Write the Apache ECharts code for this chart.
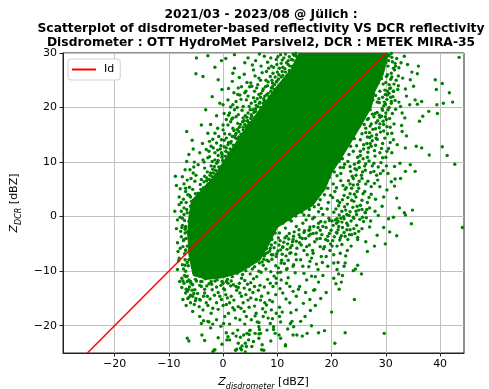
<!DOCTYPE html>
<html>
<head>
<meta charset="utf-8">
<script src="https://cdn.jsdelivr.net/npm/echarts@6/dist/echarts.min.js"></script>
<style>
  html, body { margin: 0; padding: 0; background: #fff; }
  #chart { width: 489px; height: 389px; }
</style>
</head>
<body>
<div id="chart"></div>
<script>
// title lines
var titleLines = [
  '2021/03 - 2023/08 @ Jülich :',
  'Scatterplot of disdrometer-based reflectivity VS DCR reflectivity',
  'Disdrometer : OTT HydroMet Parsivel2, DCR : METEK MIRA-35'
]

var xTicks = [-20, -10, 0, 10, 20, 30, 40]
var yTicks = [-20, -10, 0, 10, 20, 30]

// identity line end points
var idLine = [[-25, -25], [30, 30]]

// outline of the solid (saturated) part of the point cloud, [Zdis, Zdcr]
var denseCore = [
  [14, 30], [30.5, 30], [29.5, 26], [28, 23], [27.3, 20], [25.6, 17], [23.8, 14], [21.6, 10.4],
  [20, 8], [18.8, 5], [16.5, 2], [13.5, 0.3], [10, -2], [8.4, -5.2], [6.8, -8], [3, -10.3],
  [0, -11.2], [-3, -11.5], [-5.5, -10.8], [-6.3, -7], [-6.5, -3], [-6.3, 0], [-5.8, 3],
  [-3.8, 5], [-2, 7], [0, 10], [3.3, 15], [7, 20], [10, 24], [12.5, 27]
]

// upper-left scattered points
var upperLeftPts = [
  [2.1,29.7],[4.6,29.1],[7.6,29.4],[8.2,28.3],[8.4,27.2],[5.6,26.9],[2.1,27.2],[-1.5,27.4],[-3.7,25.7],[-0.9,25.1],
  [1.7,24.8],[2.8,23.6],[3.4,23.8],[6.6,25.4],[8.7,25.7],[6.4,24.2],[4.9,23.8],[4.2,23.0],[3.1,22.3],[2.0,22.7],
  [5.8,23.0],[7.4,23.4],[8.0,22.3],[8.9,23.6],[9.5,24.2],[9.9,24.8],[9.2,26.3],[10.4,27.2],[11.2,29.1],[11.7,28.2],
  [12.6,28.8],[13.5,29.4],[9.8,28.8],[-2.8,29.5],[0.5,29.0],[6.0,28.6],[10.6,29.7],[12.2,26.8],[11.0,25.9],[10.3,26.0],
  [12.8,27.6],[7.2,26.4],[9.6,21.6],[10.2,22.8],[10.8,23.3],[6.9,21.9],[3.9,26.1],[-0.2,23.3],[-4.9,29.1],
  [-0.6,20.8],[0.9,21.4],[1.8,20.5],[2.4,21.1],[3.7,20.2],[4.3,21.4],[5.2,20.8],[5.5,19.6],[6.4,20.2],[7.4,20.8],
  [8.3,21.1],[1.2,19.0],[0.6,17.8],[1.8,18.1],[2.8,18.7],[3.7,18.1],[4.6,19.0],[4.9,17.2],[5.8,17.8],[6.7,18.7],
  [0.0,15.9],[0.9,16.8],[1.8,16.2],[2.4,15.3],[3.7,15.9],[4.3,16.5],[-1.5,15.3],[-2.5,13.8],[-2.8,15.3],[-3.1,12.3],
  [-2.2,12.9],[-1.2,13.5],[-0.3,14.1],[0.6,14.4],[1.5,13.8],[2.4,12.9],[3.1,13.8],[-4.3,11.7],[-3.7,10.4],[-2.5,11.0],
  [-1.5,11.7],[-0.3,11.7],[0.9,11.7],[-1.2,9.8],[-3.4,8.9],[-4.0,6.8],[-3.1,5.6],[-4.6,4.3],[-3.7,3.7],[-1.8,8.0],
  [-2.5,6.8],[-0.1,10.3],[0.4,11.1],[1.3,12.4],[1.9,13.1],[2.9,14.6],[3.3,15.1],[4.0,16.9],[4.5,17.6],[5.3,18.4],
  [6.0,19.3],[6.9,20.0],[7.6,21.3],[8.5,22.0],[9.1,22.6],[9.9,23.5],[10.5,24.2],[11.3,25.3],[11.8,25.9],[12.3,26.4],
  [13.0,27.3],[13.4,28.3],[14.2,29.0],[12.9,29.8],[-0.8,9.1],[-1.4,8.5],[-2.0,7.3],[-2.8,6.0],[-3.3,4.8],[-3.9,3.1],
  [0.2,12.8],[1.0,13.6],[2.2,14.9],[3.0,16.4],[3.6,17.4],[4.1,18.5],[5.0,19.6],[5.9,21.1],[6.6,22.4],[7.3,23.1],
  [8.2,24.0],[9.0,25.0],[10.0,26.5],[11.0,27.4],[12.0,28.6],[-0.4,13.0],[0.3,15.2],[1.4,17.4],[2.1,19.6],[3.3,21.5],
  [4.6,22.1],[5.1,24.5],[7.9,25.0],[8.9,27.6],[-2.0,10.1],[-3.4,7.4],[-1.0,12.2],[2.7,17.1],[6.2,23.6],[-4.2,5.9],
  [-4.4,2.1],[-4.8,3.0],
  [13.1,29.6],[12.2,29.3],[11.5,29.8],[10.9,28.7],[12.0,27.9],[11.4,27.1],[10.7,28.1],[9.9,27.9],[10.9,26.6],[9.6,25.6],
  [10.2,25.2],[9.1,24.5],[8.3,24.7],[7.8,23.8],[8.8,23.0],[9.4,23.3],[7.0,22.6],[7.7,22.1],[6.3,21.6],[6.8,21.0],
  [6.1,20.4],[5.6,21.8],[4.8,20.2],[5.7,19.1],[4.4,18.2],[5.1,18.0],[3.9,17.6],[4.6,16.8],[3.2,16.9],[2.6,16.0],
  [3.5,19.5],[2.4,18.3],[1.6,17.9],[2.0,15.8],[1.2,15.1],[2.5,14.3],[1.7,14.7],[0.9,13.2],[0.2,14.0],[-0.5,12.4],
  [0.5,12.0],[-0.9,11.2],[-0.2,10.9],[-1.5,10.4],[-1.0,10.0],[-2.2,9.3],[-1.9,8.7],[-2.9,8.2],[-2.4,7.6],[-3.5,6.4],
  [-3.0,6.6],[-4.1,5.0],[-3.6,5.3],[-4.3,4.0],[-2.8,10.8],[-3.5,10.0],[-1.8,12.6],[-2.6,12.0],[-0.8,14.7],[-1.9,14.2],
  [0.0,16.8],[-1.0,16.2],[1.0,18.6],[0.2,18.9],[2.6,20.0],[1.4,20.1],[4.0,22.7],[2.7,22.4],[5.3,23.9],[4.4,24.6],
  [6.9,25.0],[5.9,25.8],[8.0,26.6],[7.0,27.6],[9.3,27.4],[8.8,29.1],[10.1,29.3],[6.7,29.8],[-1.2,18.5],[-2.3,16.9],
  [-3.8,13.4],[-4.6,9.5],[0.0,20.5],[1.0,23.5],[3.0,25.5],[5.4,27.8],[-2.0,22.0],[-3.2,19.6],[-4.0,16.8],[1.8,26.3],
  [4.0,28.2],[-0.3,28.6],
  [-3.0,7.1],[-2.3,8.0],[-1.6,9.2],[-0.9,10.3],[-0.2,11.4],[0.6,12.6],[1.4,13.5],[2.2,14.5],[2.9,15.6],[3.7,16.4],
  [4.5,17.5],[5.2,18.7],[6.0,19.8],[6.7,20.8],[7.5,21.6],[8.3,22.6],[9.1,23.8],[9.8,24.7],[10.7,25.6],[11.5,26.5],
  [12.3,27.6],[12.9,28.7],[13.4,29.9]
]

// left cluster around Zdis = -9..-4
var leftPts = [
  [-5.0,26.2],[-6.7,15.6],[-5.5,12.4],[-6.7,10.1],[-5.3,10.0],[-8.8,7.4],[-7.5,7.3],[-5.5,8.0],[-8.6,5.7],[-7.2,6.0],
  [-6.9,4.6],[-8.1,3.6],[-7.3,3.2],[-6.0,3.6],[-5.3,3.1],[-5.9,7.0],[-5.2,6.5],[-6.2,5.4],[-5.6,5.0],[-5.1,4.2],
  [-6.5,4.0],[-5.8,2.8],[-5.0,7.6],[-6.1,8.6],[-5.4,9.1],[-8.1,2.2],[-7.2,1.6],[-6.0,1.9],[-6.6,0.7],[-5.3,0.4],
  [-7.5,-0.3],[-6.3,-0.9],[-8.4,-0.6],[-6.9,-1.8],[-5.6,-2.1],[-7.8,-2.7],[-6.3,-3.3],[-5.3,-3.6],[-7.2,-4.2],[-8.4,-4.8],
  [-6.0,-5.1],[-6.9,-6.1],[-5.3,-6.7],[-8.1,-7.6],[-6.3,-7.9],[-7.5,-8.8],[-5.6,-9.1],[-8.4,-9.7],[-6.9,-10.0],[-5.3,-10.3],
  [-7.6,-11.3],[-6.3,-11.6],[-7.2,-12.2],[-5.6,-12.5],[-6.6,-13.7],[-6.9,-14.0],[-5.6,-14.6],[-6.0,-15.8],[-5.3,-16.1],
  [-7.0,-3.0],[-7.4,-5.5],[-6.6,-8.4],[-6.8,-11.0],[-6.2,-12.9],[-5.2,-13.4],[-7.0,-2.3],[-7.7,1.0],[-5.7,-13.5],[-6.3,-14.8],
  [-7.9,-5.8],[-8.0,-11.9],[-4.9,-11.8],[-4.3,-12.6],[-4.7,-14.1],[-4.2,-15.3],[-5.0,-15.0],[-6.7,1.3],[-7.1,-0.7],[-6.6,-2.8],
  [-7.5,-1.6],[-6.8,-4.0],[-7.7,-3.7],[-6.6,-5.4],[-7.1,-6.8],[-7.0,-7.9],[-6.4,-9.0],[-7.3,-9.6],[-7.1,-10.8],[-6.6,-11.9],
  [-5.9,-12.2],[-5.1,-11.5],[-7.6,-13.0],[-6.4,-13.4],[-5.4,-14.1],[-6.0,-14.4],[-5.1,-15.4],[-8.6,-2.2],[-8.2,-8.1],[-8.9,1.0],
  [-7.9,5.1],[-7.0,8.6],[-6.3,11.4],[-5.7,14.0],[-7.4,-15.2],[-6.8,-16.3],[-5.6,-17.4],
  [-6.8,2.6],[-7.2,0.4],[-6.9,-2.0],[-7.3,-4.4],[-6.9,-6.2],[-7.0,-8.9],[-6.6,-10.9],[-7.4,-11.8],[-6.0,-11.9],[-6.8,-13.3],
  [-6.5,-15.0],[-7.6,-2.0],[-7.9,-0.1],[-7.7,2.6],[-8.3,-6.4],[-6.2,3.9],[-6.9,5.2],[-6.6,6.7]
]

// points below the core
var lowerPts = [
  [-4.0,-12.8],[-3.4,-14.0],[-4.3,-15.2],[-3.1,-15.8],[-3.7,-17.1],[-2.2,-17.7],[-1.2,-15.8],[-0.6,-14.6],[0.3,-13.4],[0.9,-12.2],
  [1.5,-14.6],[1.2,-15.8],[2.4,-12.8],[3.1,-14.0],[2.1,-17.1],[3.7,-15.8],[4.3,-18.3],[4.9,-13.4],[5.8,-12.8],[6.1,-15.2],
  [7.1,-14.6],[7.7,-15.8],[8.3,-14.0],[9.2,-12.8],[9.8,-12.2],[10.7,-11.6],[11.7,-12.2],[11.0,-14.0],[12.3,-12.8],[12.9,-13.7],
  [13.5,-14.6],[14.1,-12.8],[15.4,-11.6],[16.3,-10.9],[16.9,-13.4],[16.0,-15.2],[17.9,-5.5],[16.7,-13.5],[18.0,-15.0],[16.1,-17.2],
  [13.5,-17.1],[14.3,-19.2],[9.8,-17.7],[8.9,-17.1],[7.4,-18.3],[6.1,-17.7],[5.2,-18.9],[3.1,-18.9],[0.3,-18.3],[-1.2,-18.9],
  [-2.8,-19.2],[-4.3,-18.3],
  [4.6,-7.8],[5.5,-7.2],[6.3,-6.6],[7.1,-6.9],[8.0,-5.9],[8.9,-5.2],[9.6,-4.8],[10.5,-4.4],[11.4,-3.9],[12.2,-3.1],
  [13.1,-2.8],[14.0,-2.4],[-3.3,-11.4],[-2.2,-11.9],[-1.1,-11.6],[0.0,-12.2],[0.8,-11.5],[1.7,-11.0],[2.6,-10.4],[3.4,-11.3],
  [4.2,-9.9],[5.0,-10.5],[5.8,-9.2],[6.7,-8.5],[7.5,-7.8],[8.4,-8.2],[9.2,-7.0],[10.1,-6.3],[11.0,-5.6],[11.9,-5.0],
  [12.8,-4.6],[-3.9,-11.9],[-2.6,-12.3],[-1.5,-11.8],[-0.4,-12.6],[0.6,-11.9],[1.9,-12.5],[3.0,-12.2],[4.0,-11.7],[5.1,-12.1],
  [6.2,-11.0],[7.0,-10.2],[7.9,-9.6],[8.8,-10.1],[9.7,-9.0],[10.8,-8.0],[11.6,-7.2],[12.5,-6.6],[13.6,-5.8],[14.4,-5.2],
  [15.2,-4.0],[-2.0,-13.4],[-0.9,-13.9],[0.5,-14.3],[2.5,-13.5],[3.9,-13.1],[5.5,-13.9],[6.8,-12.6],[8.2,-11.5],[9.4,-10.9],
  [10.6,-10.2],[11.8,-9.5],[13.0,-8.8],[14.3,-7.9],[15.5,-7.0],[16.5,-6.2],[15.3,-0.6],[16.8,-0.1],[18.4,0.4],
  [-3.6,-14.6],[-2.4,-15.1],[0.0,-16.3],[2.8,-16.5],[4.6,-15.3],[5.8,-16.4],[7.3,-16.9],[9.1,-15.6],[10.4,-16.6],[11.6,-15.1],
  [12.5,-17.6],[14.8,-15.9],[15.2,-13.9],[17.6,-12.0],[18.4,-10.8],[19.3,-9.1],[-1.9,-16.8],[1.0,-17.7],[3.9,-17.4],[6.6,-19.4],
  [8.0,-16.2],
  [11.0,-1.2],[12.3,-0.6],[13.5,-1.8],[14.7,-1.2],[16.0,-2.4],[17.2,-3.0],[18.4,-1.8],[19.3,-3.6],[10.4,-3.0],[11.7,-3.6],
  [12.9,-4.2],[14.1,-4.8],[15.4,-5.5],[16.6,-6.7],[18.1,-7.3],[11.0,-5.5],[12.3,-6.7],[13.5,-7.9],[14.7,-9.1],[9.8,-7.3],
  [10.7,-8.5],[12.9,-9.1],[16.0,-8.2],[17.5,-9.7],[18.7,-5.5],[19.0,-7.3],[11.7,-9.7],[10.1,-10.3],
  [3.9,-9.3],[4.7,-9.1],[5.3,-8.4],[6.1,-7.9],[6.9,-7.3],[7.8,-6.8],[8.6,-6.3],[9.4,-5.7],[10.3,-5.2],[11.2,-4.7],
  [12.1,-4.1],[13.0,-3.6],[14.0,-3.3],[14.9,-2.9],[15.8,-2.5],[16.7,-1.8],[17.6,-1.2],[18.8,-1.0],[19.5,-0.3],
  [-3.0,-12.7],[-1.2,-12.9],[0.1,-13.2],[1.4,-12.7],[2.8,-13.0],[4.5,-12.4],[5.6,-11.4],[6.6,-10.0],[7.4,-8.9],[8.1,-8.0],
  [9.0,-7.8],[9.9,-6.8],[10.9,-6.9],[11.8,-6.0],[12.7,-5.3],[13.5,-4.5],[14.6,-4.0],[15.8,-3.5],[16.9,-4.6],[17.9,-4.0],
  [-3.4,-13.3],[-2.9,-14.6],[-1.6,-14.4],[-0.3,-15.2],[0.8,-14.9],[2.0,-15.3],[3.4,-14.6],[4.2,-14.3],[5.1,-14.9],[6.5,-13.5],
  [7.6,-12.9],[8.7,-12.2],[9.8,-11.3],[10.2,-9.4],[11.3,-8.6],[12.0,-8.0],[13.4,-6.9],[14.9,-6.2],[15.9,-5.2],[16.3,-7.6],
  [-4.4,-16.5],[-2.8,-16.3],[-0.9,-17.0],[0.6,-16.1],[1.8,-16.7],[3.3,-16.8],[4.8,-16.6],[6.9,-15.3],[8.6,-15.3],[9.7,-14.3],
  [10.5,-13.2],[12.0,-11.2],[13.3,-10.3],[14.9,-10.4],[15.8,-9.2],[17.2,-8.7],[18.3,-8.4],[17.0,-11.0],[13.9,-13.3],[12.3,-15.8],
  [10.9,-17.5],[9.1,-18.7],[7.8,-17.5],[5.9,-18.2],[4.0,-19.7],[2.3,-18.6],[1.2,-19.7],[-0.4,-20.1],[-2.3,-20.4],[-3.4,-22.7],
  [-0.9,-22.2],[1.8,-21.4],[5.3,-23.8],[8.8,-22.8],[11.9,-20.6],[15.1,-18.3],[17.0,-16.3],[19.0,-13.9],[20.0,-17.5],[16.3,-20.0],
  [-4.1,-11.9],[-2.1,-12.4],[-0.2,-11.9],[1.5,-11.8],[3.6,-10.6],[5.4,-9.6],[7.2,-8.3],[8.9,-7.0],[10.6,-6.1],[12.4,-5.7],
  [14.2,-3.8],[16.1,-3.2],[17.9,-2.5],
  [10.0,-1.6],[10.8,-1.0],[11.5,-2.1],[9.6,-3.0],[10.2,-3.9],[9.0,-4.2],[8.7,-5.8],[8.2,-6.6],[7.6,-7.2],[15.8,0.2],
  [17.6,0.9],[19.2,1.4],[16.5,-0.4]
]

// sparse points near the bottom edge
var bottomPts = [
  [11.5,-23.7],[12.7,-19.2],[10.4,-18.3],[9.3,-20.7],[8.3,-18.6],[6.7,-20.7],[6.6,-21.5],[4.9,-20.9],[4.8,-21.6],[4.3,-23.8],
  [2.8,-23.2],[1.2,-22.6],[2.3,-24.5],[3.4,-24.4],[7.1,-24.4],[-1.5,-24.4],[-6.6,-22.3],[-6.3,-22.8],[-3.9,-21.7],[-4.0,-19.6],
  [-3.6,-19.1],[-2.6,-19.3],[-1.9,-19.7],[-1.7,-24.5],[-1.9,-24.8],[0.1,-19.6],[0.6,-21.3],[0.9,-22.0],[-0.2,-23.4],[0.7,-22.6],
  [2.4,-21.9],[2.7,-20.8],[3.2,-22.1],[3.8,-21.7],[4.4,-21.4],[4.7,-22.6],[5.0,-20.8],[4.1,-23.2],[3.5,-23.7],[2.5,-24.3],
  [3.2,-24.1],[4.1,-24.8],[6.3,-19.3],[6.6,-20.2],[6.9,-21.4],[5.9,-21.4],[6.6,-22.3],[7.2,-23.5],[7.5,-24.5],[5.6,-22.9],
  [8.1,-20.8],[8.7,-19.6],[9.3,-20.2],[9.6,-21.4],[10.3,-21.7],[10.6,-22.3],[11.5,-23.5],[10.6,-19.3],[12.4,-19.6],[13.0,-20.2],
  [12.9,-21.7],[13.6,-21.7],[14.6,-21.9],[15.5,-21.4],[17.6,-21.3],[18.7,-20.9],[22.5,-21.3],[20.6,-23.2],[29.7,-21.4]
]

// points right of the core
var rightPts = [
  [30.6,29.5],[31.2,28.4],[30.4,27.6],[31.6,26.9],[30.3,26.0],[30.9,25.2],[32.0,29.0],[31.5,24.3],[30.0,24.6],[29.8,23.2],
  [30.6,22.6],[31.3,22.0],[30.2,21.5],[29.4,21.9],[28.8,20.9],[29.6,20.3],[30.4,19.6],[31.0,20.8],[28.4,19.1],[29.2,18.4],
  [30.1,17.8],[29.6,16.9],[28.5,17.6],[27.8,18.3],[27.3,17.0],[28.1,16.1],[29.0,15.5],[30.3,15.2],[27.0,15.4],[26.3,16.2],
  [26.6,14.6],[27.5,13.9],[28.4,14.2],[29.4,13.4],[25.9,13.2],[26.8,12.6],[27.9,12.1],[28.9,11.7],[25.3,12.0],[24.8,10.9],
  [25.8,10.6],[26.9,10.2],[27.8,9.8],[29.1,9.9],[24.2,9.6],[25.1,9.0],[26.2,8.5],[27.2,8.1],[28.3,7.6],[23.5,8.3],
  [24.5,7.6],[25.6,7.0],[26.7,6.5],[27.9,6.1],[23.1,6.6],[24.0,5.8],[25.0,5.2],[26.1,4.6],[27.3,4.1],[22.5,5.0],
  [23.4,4.2],[24.5,3.6],[25.6,3.0],[26.6,2.6],[22.0,3.1],[22.9,2.3],[23.9,1.7],[25.0,1.2],[26.2,0.8],[21.3,2.0],
  [21.9,1.0],[22.8,0.4],[24.0,-0.1],[25.2,-0.5],[26.4,-0.2],[20.4,0.8],[21.0,-0.4],[21.9,-1.0],[23.0,-1.6],[24.1,-2.2],
  [19.6,-0.7],[20.3,-1.6],[21.2,-2.4],[22.3,-2.9],[23.3,-3.3],[19.0,-2.0],[19.6,-3.1],[20.5,-3.7],[21.5,-4.3],[18.2,-3.3],
  [18.9,-4.2],[19.8,-5.0],[17.3,-4.1],[16.6,-3.1],[17.5,-2.0],[18.0,-0.9],[16.0,-1.9],[15.0,-2.6],
  [30.5,28.6],[31.8,27.6],[30.9,23.6],[31.2,18.9],[30.8,16.4],[31.4,14.1],[30.5,12.5],[30.0,10.9],[29.5,8.4],[28.9,5.5],
  [29.6,3.6],[31.0,6.4],[30.4,7.9],[31.6,9.2],
  [32.5,1.6],[34.9,1.2],[33.4,0.7],[33.6,0.3],[34.7,-1.3],[31.4,-0.1],[30.5,-0.4],[29.6,-2.0],[30.7,-2.8],[32.0,-3.5],
  [29.9,-5.0],[27.9,-5.4],[26.6,-6.4],[24.8,-3.8],[24.8,-4.2],[23.6,-5.4],[22.9,-6.2],[25.5,-10.5],[24.8,-8.9],[24.4,-9.6],
  [24.0,-9.9],[22.5,-8.5],[22.3,-9.1],[21.2,-8.4],[21.3,-10.5],[22.0,-10.8],[21.8,-12.0],[20.8,-12.3],[21.4,-13.3],[24.2,-15.2],
  [20.4,-7.0],[21.0,-5.4],[20.1,-5.4],[21.6,-3.9],[44.1,-2.0],
  [20.7,-0.6],[21.3,-1.8],[22.8,-1.2],[23.4,-2.4],[21.0,-3.0],[22.5,-3.6],[23.7,-3.3],[25.0,-2.7],[25.9,-0.9],[26.2,0.7],
  [25.6,1.3],[24.7,1.9],[26.5,1.3],[24.1,-0.3],[22.2,0.0],[21.6,-6.7],[20.4,-8.5],[21.0,-9.7],[20.4,-11.3],
  [31.0,29.9],[31.7,28.1],[32.4,27.3],[31.0,26.3],[32.3,25.8],[31.9,25.0],[30.6,24.2],[32.2,23.3],[30.3,23.0],[31.7,21.3],
  [30.9,21.9],[29.7,21.0],[30.0,19.0],[31.8,19.7],[29.4,19.5],[28.8,18.6],[29.9,18.3],[30.7,18.0],[31.5,17.0],[28.9,17.0],
  [30.2,16.5],[29.6,15.7],[28.3,15.0],[27.4,14.8],[29.8,14.4],[30.8,13.6],[28.1,13.1],[27.1,13.4],[29.2,12.5],[30.2,12.0],
  [26.7,11.8],[28.0,11.1],[29.4,10.8],[25.1,10.1],[26.3,9.7],[27.5,9.3],[28.6,9.1],[30.1,9.3],[24.6,8.6],[25.7,8.2],
  [27.8,8.3],[29.0,7.9],[24.0,7.0],[25.1,6.5],[26.3,6.0],[27.3,5.5],[28.5,6.7],[23.7,5.2],[24.7,4.6],[25.8,4.2],
  [26.9,3.5],[28.1,3.2],[23.0,3.5],[24.1,2.8],[25.3,2.1],[27.0,1.6],[28.0,1.0],[22.4,1.8],[23.4,0.9],[24.6,0.4],
  [25.7,-0.1],[27.2,-0.8],[21.4,0.3],[22.3,-0.4],[23.6,-0.8],[24.6,-1.6],[25.6,-2.2],[20.9,-1.2],[22.0,-2.0],[22.8,-2.4],
  [24.3,-3.1],[19.9,-2.5],[20.9,-2.9],[21.8,-3.5],[23.0,-4.2],[19.3,-4.4],[20.2,-4.4],[21.9,-5.1],[18.5,-5.9],[19.7,-6.2],
  [22.6,-7.2],[27.0,-1.9],[28.4,-3.4],[26.3,-4.6],[28.6,0.2],[29.3,1.9],[30.2,4.9],[31.6,5.6],[32.6,9.8],[32.1,13.2],
  [32.9,16.7],[33.5,18.1],[32.4,21.0],[33.6,23.4],[34.0,27.9],
  [20.8,1.4],[21.5,2.6],[22.3,3.9],[22.7,5.3],[23.4,6.0],[23.8,7.4],[24.3,8.8],[24.9,9.9],[25.3,11.2],[25.9,12.4],
  [26.5,13.4],[27.0,14.5],[27.6,16.0],[28.2,17.2],[28.9,18.2],[29.3,19.8],[29.9,20.6],[30.3,22.3],[30.7,23.5],[31.1,25.6],
  [31.4,27.2],[31.1,29.2],[21.2,-0.9],[22.6,1.2],[23.7,3.0],[24.2,4.1],[24.8,5.9],[25.5,7.6],[26.1,9.3],[26.6,10.9],
  [27.3,12.9],[28.2,14.4],[28.8,16.3],[29.5,17.5],[30.6,20.0],[31.0,21.1],[29.9,22.4],[31.4,23.0],[20.1,-0.8],[21.7,-0.3],
  [23.2,0.2],[24.5,1.0],
  [29.5,27.0],[30.0,28.2],[29.8,29.3],[29.2,26.4],[28.0,23.6],[28.6,24.5],[29.2,25.3],[28.3,25.0],[27.8,24.1],[27.0,20.6],
  [27.6,21.4],[28.1,22.2],[27.4,22.7],[28.4,21.0],[26.9,21.9],[25.2,17.6],[25.9,18.4],[26.4,19.2],[27.1,19.6],[25.6,19.0],
  [26.8,18.0],[27.5,18.8],[23.3,14.6],[23.9,15.3],[24.5,16.0],[25.1,16.6],[25.6,15.2],[24.2,14.3],[26.0,16.9],[21.0,11.0],
  [21.6,11.8],[22.3,12.5],[22.9,13.3],[23.5,12.9],[22.0,10.6],[24.0,12.0],[23.2,11.4],[21.4,10.2],[19.4,8.5],[20.1,9.3],
  [20.8,9.8],[21.6,9.0],[22.4,9.6],[20.5,8.2],[18.2,5.6],[18.9,6.4],[19.6,7.2],[20.3,6.0],[21.0,7.5],[21.7,6.6],
  [19.3,5.2],[20.6,4.6],[22.1,5.7],[15.6,2.6],[16.4,3.4],[17.2,4.2],[17.9,3.1],[18.7,4.0],[19.4,2.6],[20.2,3.5],
  [16.8,1.8],[18.1,1.5],[21.1,2.9],[15.9,1.3],[12.9,0.9],[13.7,1.4],[14.5,0.8],[13.4,0.1],[11.8,-0.4],[12.6,-0.8],
  [22.2,9.0],[23.0,10.1],[24.6,13.0],[25.3,14.1],[26.3,15.4],[27.1,16.6],[28.0,18.9],[28.7,21.6],[29.5,24.3],[30.1,25.7],
  [21.7,7.9],[20.9,5.3],[19.8,3.9],[17.6,2.2],[14.9,0.3],[23.4,9.2],[26.6,17.8],[28.9,23.0]
]

// far right sparse points
var farRightPts = [
  [43.5,29.2],[36.0,27.6],[33.4,29.4],[32.8,28.2],[34.8,26.5],[35.8,26.2],[34.5,25.1],[33.1,25.4],[32.3,24.0],[39.1,25.1],
  [40.4,24.4],[39.3,23.3],[41.7,22.7],[35.1,23.9],[31.4,23.0],[33.8,22.1],[35.4,21.4],[36.6,21.1],[42.3,21.0],[40.6,20.8],
  [39.4,20.5],[34.4,20.5],[35.8,20.6],[32.7,20.2],[37.9,19.3],[39.5,18.9],[36.8,18.4],[33.0,19.0],[36.2,17.5],[33.0,15.6],
  [33.8,14.8],[35.6,12.9],[36.6,12.6],[40.4,12.8],[38.0,11.3],[41.3,11.2],[31.1,11.7],[33.6,12.6],[31.1,15.3],[42.7,9.6],
  [34.5,9.5],[33.6,8.3],[35.4,8.3],[31.7,6.9],[32.7,7.0],[32.0,3.4]
]

var scatterPts = upperLeftPts.concat(leftPts, lowerPts, bottomPts, rightPts, farRightPts)

var FONT = 'DejaVu Sans'
function minusFmt(v) {
  return String(v).replace('-', '\u2212')
}

var nameRich = {
  z: { fontFamily: FONT, fontSize: 11, fontStyle: 'italic', color: '#000', verticalAlign: 'bottom', padding: [0, 0, 3, 0] },
  s: { fontFamily: FONT, fontSize: 8, fontStyle: 'italic', color: '#000', verticalAlign: 'bottom' },
  u: { fontFamily: FONT, fontSize: 11, color: '#000', verticalAlign: 'bottom', padding: [0, 0, 3, 0] }
}

var chart = echarts.init(document.getElementById('chart'), null, { renderer: 'canvas' })

chart.setOption({
  animation: false,
  backgroundColor: '#fff',
  graphic: titleLines.map(function(t, i) {
    return {
      type: 'text',
      x: 261,
      y: 15 + i * 13.8,
      style: {
        text: t,
        font: 'bold 12.3px "DejaVu Sans"',
        fill: '#000',
        textAlign: 'center',
        textVerticalAlign: 'middle'
      }
    }
  }),
  grid: {
    left: 63,
    top: 53,
    right: 25,
    bottom: 36,
    outerBoundsMode: 'none',
    show: true,
    borderColor: '#222',
    borderWidth: 1,
    backgroundColor: 'transparent'
  },
  legend: {
    data: ['Id'],
    left: 68,
    top: 59,
    orient: 'vertical',
    icon: 'rect',
    itemWidth: 24,
    itemHeight: 2,
    padding: [5, 6, 5, 4],
    backgroundColor: '#fff',
    borderColor: '#d0d0d0',
    borderWidth: 1,
    borderRadius: 3,
    textStyle: { fontFamily: FONT, fontSize: 11, color: '#000', padding: [0, 0, 0, 3] }
  },
  xAxis: {
    type: 'value',
    min: -29.5,
    max: 44.4,
    name: '{z|Z}{s|disdrometer}{u| [dBZ]}',
    nameLocation: 'middle',
    nameGap: 24,
    nameTextStyle: { rich: nameRich },
    axisLine: { show: true, onZero: false, lineStyle: { color: '#222', width: 1 } },
    axisTick: { show: true, inside: false, length: 3.5, lineStyle: { color: '#222' }, customValues: xTicks },
    axisLabel: { fontFamily: FONT, fontSize: 11, color: '#000', margin: 6, formatter: minusFmt, customValues: xTicks },
    splitLine: { show: true, lineStyle: { color: '#c0c0c0', width: 1 } }
  },
  yAxis: {
    type: 'value',
    min: -25,
    max: 30,
    name: '{z|Z}{s|DCR}{u| [dBZ]}',
    nameLocation: 'middle',
    nameGap: 33,
    nameRotate: 90,
    nameTextStyle: { rich: nameRich },
    axisLine: { show: true, onZero: false, lineStyle: { color: '#222', width: 1 } },
    axisTick: { show: true, inside: false, length: 3.5, lineStyle: { color: '#222' }, customValues: yTicks },
    axisLabel: { fontFamily: FONT, fontSize: 11, color: '#000', margin: 6, formatter: minusFmt, customValues: yTicks },
    splitLine: { show: true, lineStyle: { color: '#c0c0c0', width: 1 } }
  },
  series: [
    {
      name: 'core',
      type: 'custom',
      clip: true,
      silent: true,
      z: 2,
      data: [0],
      renderItem: function(params, api) {
        var pts = denseCore.map(function(p) {
          return api.coord(p)
        })
        return {
          type: 'polygon',
          shape: { points: pts },
          style: { fill: '#008000', stroke: '#008000', lineWidth: 1 }
        }
      }
    },
    {
      name: 'obs',
      type: 'scatter',
      z: 3,
      symbol: 'circle',
      symbolSize: 3.4,
      itemStyle: { color: '#008000', opacity: 1 },
      data: scatterPts
    },
    {
      name: 'Id',
      type: 'line',
      z: 4,
      showSymbol: false,
      symbol: 'none',
      data: idLine,
      itemStyle: { color: '#ff0000' },
      lineStyle: { color: '#ff0000', width: 1.5 }
    }
  ]
})
</script>
</body>
</html>
